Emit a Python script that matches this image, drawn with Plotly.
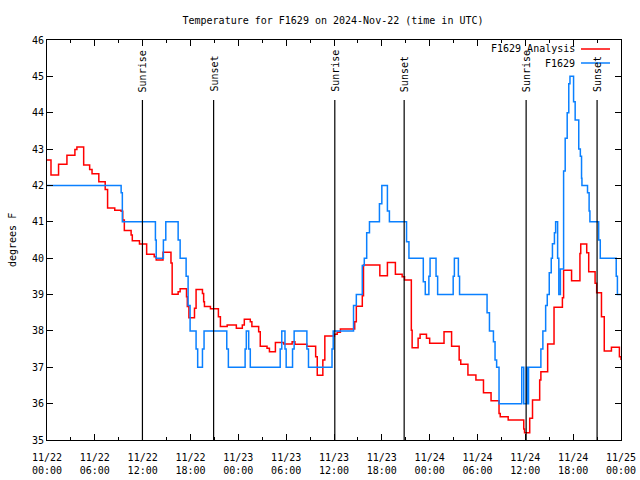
import numpy as np
import pandas as pd
import plotly.graph_objects as go

# ---- data (hours after 2024-11-22 00:00 UTC) ----
start = pd.Timestamp("2024-11-22 00:00")

analysis_hours = [0.0, 0.5, 1.45, 2.5, 3.5, 3.75, 4.6, 5.35, 5.65, 6.5, 7.3, 7.6, 8.5, 9.3, 9.5, 9.7,
                  10.55, 10.7, 11.6, 12.5, 13.45, 13.7, 14.55, 15.55, 15.7, 16.45, 16.7, 17.5, 17.6,
                  17.8, 18.5, 18.7, 19.5, 19.65, 19.75, 20.5, 21.5, 21.75, 22.6, 23.75, 24.5, 24.75,
                  25.5, 25.7, 26.55, 26.75, 27.6, 27.9, 28.65, 29.7, 30.75, 31.1, 32.6, 33.7, 33.9,
                  34.6, 34.85, 36.05, 36.4, 36.8, 38.6, 38.8, 39.55, 39.7, 41.75, 42.7, 43.7, 44.55,
                  44.85, 45.7, 45.8, 46.55, 46.8, 47.6, 48.0, 49.8, 50.75, 51.7, 51.9, 52.8, 53.8,
                  54.75, 55.7, 56.7, 56.85, 57.85, 59.8, 59.9, 60.55, 60.9, 61.8, 61.95, 62.8, 63.6,
                  64.65, 64.8, 65.8, 66.85, 66.95, 67.7, 67.95, 68.75, 68.95, 69.55, 69.9, 70.8,
                  71.8, 72.0]
analysis_temp = [42.70, 42.29, 42.58, 42.83, 42.99, 43.06, 42.56, 42.44, 42.32, 42.10, 41.89, 41.38,
                 41.32, 41.29, 41.05, 40.76, 40.64, 40.48, 40.39, 40.11, 40.04, 39.95, 40.16, 39.87,
                 39.01, 39.08, 39.16, 38.94, 38.67, 38.36, 38.62, 39.14, 39.03, 38.80, 38.67, 38.61,
                 38.39, 38.12, 38.16, 38.07, 38.16, 38.32, 38.25, 38.12, 37.98, 37.58, 37.52, 37.43,
                 37.68, 37.64, 37.70, 37.63, 37.58, 37.29, 36.78, 37.20, 37.86, 37.91, 37.96, 38.05,
                 38.25, 38.68, 38.97, 39.81, 39.52, 39.88, 39.56, 39.49, 39.40, 38.02, 37.54, 37.80,
                 37.91, 37.80, 37.66, 37.98, 37.58, 37.20, 37.08, 36.79, 36.65, 36.30, 36.08, 35.73,
                 35.64, 35.55, 35.30, 35.20, 35.60, 36.10, 36.65, 36.88, 37.64, 38.65, 38.91, 39.67,
                 39.38, 40.13, 40.39, 40.15, 39.63, 39.31, 39.05, 38.39, 37.45, 37.55, 37.29, 37.20]

obs_hours = [0.0, 9.3, 9.45, 13.6, 13.7, 14.6, 14.9, 16.45, 16.7, 17.45, 17.7, 17.95, 18.7, 18.9,
             19.5, 19.7, 22.55, 22.75, 24.85, 25.0, 25.3, 25.5, 29.25, 29.45, 29.85, 30.0, 30.8,
             31.0, 32.6, 32.8, 35.75, 35.9, 38.45, 38.8, 39.55, 39.8, 40.1, 40.45, 41.7, 42.0,
             42.7, 42.95, 45.1, 45.4, 47.2, 47.45, 47.9, 48.05, 48.8, 49.0, 50.95, 51.1, 51.6,
             51.75, 55.2, 55.5, 56.0, 56.2, 56.4, 56.7, 59.55, 59.8, 60.15, 60.25, 60.4, 61.95,
             62.2, 62.55, 62.75, 63.0, 63.25, 63.4, 63.65, 63.8, 64.05, 64.2, 64.4, 64.8, 65.0,
             65.25, 65.45, 65.6, 66.05, 66.25, 66.7, 66.9, 67.05, 67.1, 67.8, 68.0, 68.1, 69.2,
             69.4, 71.4, 71.55, 72.0]
obs_temp = [42, 41.8, 41, 40.5, 40, 40.5, 41, 40.5, 40, 39.5, 38.7, 38, 37.5, 37,
            37.5, 38, 37.5, 37, 37.5, 38, 37.5, 37, 37.5, 38, 37.5, 37, 37.5,
            38, 37.5, 37, 37.5, 38, 38.7, 39, 39.8, 40, 40.7, 41, 41.5, 42,
            41.3, 41, 40.45, 40, 39.35, 39, 39.5, 40, 39.5, 39, 39.5, 40, 39.5,
            39, 38.5, 38, 37.7, 37.2, 37, 36, 37, 36, 37, 36, 37, 37.5,
            38, 38.7, 39, 39.6, 40, 40.4, 40.7, 41, 40, 39, 39.7, 42.4, 43.3,
            44.0, 44.8, 45, 44.3, 43.8, 43.0, 42.8, 42.2, 42, 41.8, 41.3, 41, 40.5,
            40, 39.5, 39, 39]

sunrise_hours = [11.97, 36.1, 60.1]
sunset_hours = [20.9, 44.8, 69.0]

title_text = "Temperature for F1629 on 2024-Nov-22 (time in UTC)"
series_names = ["F1629 Analysis", "F1629"]
series_colors = ["#FF0000", "#0A80FF"]

# ---- figure ----
FONT = "DejaVu Sans Mono"
FS = 10
W, H = 640, 480
L, R, T, B = 47, 19, 40, 40
pw, ph = W - L - R, H - T - B


def px_x(px):
    return (px - L) / pw


def px_y(py):
    return (H - B - py) / ph


def t(hours):
    return start + pd.to_timedelta(np.asarray(hours, dtype=float), unit="h")


fig = go.Figure()
fig.add_trace(go.Scatter(x=t(analysis_hours), y=analysis_temp, mode="lines",
                         line=dict(color=series_colors[0], width=1.5, shape="hv"),
                         name=series_names[0], showlegend=False, hoverinfo="skip"))
fig.add_trace(go.Scatter(x=t(obs_hours), y=obs_temp, mode="lines",
                         line=dict(color=series_colors[1], width=1.5, shape="hv"),
                         name=series_names[1], showlegend=False, hoverinfo="skip"))

y_line_top = 46 - (100 - T) / (ph / 11)
shapes = []
annotations = []
for label, hrs in (("Sunrise", sunrise_hours), ("Sunset", sunset_hours)):
    for h in hrs:
        xt = t([h])[0]
        shapes.append(dict(type="line", xref="x", yref="y", x0=xt, x1=xt, y0=35, y1=y_line_top,
                           line=dict(color="black", width=1.2)))
        annotations.append(dict(x=xt, y=px_y(94), xref="x", yref="paper", text=label,
                                textangle=-90, showarrow=False, xanchor="center", yanchor="bottom",
                                font=dict(family=FONT, size=FS, color="black")))

# legend (gnuplot style: text then line sample)
for i, (name, col) in enumerate(zip(series_names, series_colors)):
    yy = px_y(49 + 14 * i)
    annotations.append(dict(x=px_x(577), y=yy, xref="paper", yref="paper", text=name,
                            showarrow=False, xanchor="right", yanchor="middle",
                            font=dict(family=FONT, size=FS, color="black")))
    shapes.append(dict(type="line", xref="paper", yref="paper", x0=px_x(581), x1=px_x(610),
                       y0=yy, y1=yy, line=dict(color=col, width=1.5)))

annotations.append(dict(x=px_x(12), y=0.5, xref="paper", yref="paper", text="degrees F",
                        textangle=-90, showarrow=False, xanchor="center", yanchor="middle",
                        font=dict(family=FONT, size=FS, color="black")))

fig.update_layout(
    width=W, height=H,
    margin=dict(l=L, r=R, t=T, b=B, pad=0, autoexpand=False),
    paper_bgcolor="white", plot_bgcolor="white",
    font=dict(family=FONT, size=FS, color="black"),
    title=dict(text=title_text, x=px_x(333), xref="paper", xanchor="center",
               y=1 - 20 / H, yref="container", yanchor="middle",
               font=dict(family=FONT, size=FS, color="black")),
    shapes=shapes, annotations=annotations,
    showlegend=False, hovermode=False,
)
fig.update_xaxes(
    type="date", range=[start, start + pd.Timedelta(hours=72)], automargin=False,
    tick0=start, dtick=6 * 3600 * 1000, tickformat="%m/%d<br>%H:%M",
    ticks="inside", ticklen=6, tickcolor="black", tickwidth=1, ticklabelstandoff=8,
    minor=dict(dtick=3 * 3600 * 1000, ticks="inside", ticklen=3, tickcolor="black"),
    showline=True, linecolor="black", linewidth=1, mirror="ticks",
    showgrid=False, zeroline=False, tickfont=dict(family=FONT, size=FS),
)
fig.update_yaxes(
    range=[35, 46], dtick=1, tick0=35, automargin=False,
    ticks="inside", ticklen=6, tickcolor="black", tickwidth=1,
    showline=True, linecolor="black", linewidth=1, mirror="ticks",
    showgrid=False, zeroline=False, tickfont=dict(family=FONT, size=FS),
)

fig.write_html("out.html", config={"displayModeBar": False},
               post_script="document.body.style.margin='0';document.body.style.padding='0';")
